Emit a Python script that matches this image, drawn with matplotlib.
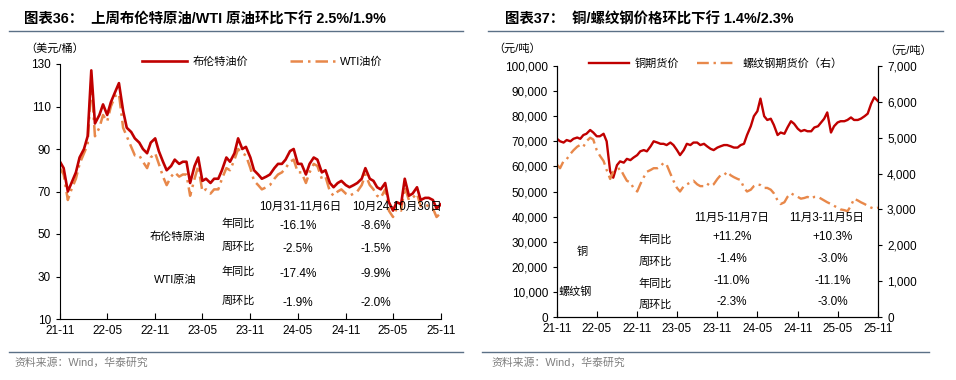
import numpy as np
import pandas as pd
import matplotlib
matplotlib.use('Agg')
from matplotlib import pyplot as plt
from matplotlib.ticker import FuncFormatter

plt.rcParams['font.family'] = ['Liberation Sans', 'Noto Sans CJK SC', 'DejaVu Sans']

# semi-monthly samples (1st / 15th), 2021-11 .. 2025-11
dates = pd.date_range('2021-11-01', '2025-11-01', freq='SMS')

brent = [84, 81, 70, 74, 79, 86, 90, 96, 127, 102, 106, 111, 106, 112, 117, 121,
         108, 100, 98, 95, 93, 90, 88, 93, 95, 89, 84, 80, 82, 85, 83, 84,
         84, 74, 82, 86, 75, 76, 74, 76, 76, 80, 86, 84, 88, 95, 90, 91,
         86, 80, 78, 76, 77, 78, 81, 83, 83, 85, 89, 90, 83, 83, 78, 83,
         86, 85, 79, 80, 74, 72, 74, 75, 73, 72, 73, 74, 76, 81, 76, 75,
         72, 71, 74, 65, 61, 65, 64, 76, 68, 69, 72, 66, 67, 67, 66, 62, 64]

wti = [81, 78, 66, 71, 76, 83, 88, 92, 122, 96, 100, 106, 103, 110, 115, 116,
       100, 96, 91, 87, 87, 84, 81, 86, 88, 83, 77, 73, 77, 79, 77, 78,
       78, 68, 76, 82, 70, 71, 69, 71, 71, 76, 81, 80, 85, 90, 88, 87,
       81, 75, 73, 71, 72, 73, 76, 78, 79, 81, 84, 85, 79, 79, 74, 79,
       83, 82, 76, 77, 70, 68, 70, 71, 69, 68, 69, 70, 73, 78, 73, 71,
       68, 67, 71, 61, 58, 62, 61, 72, 66, 67, 69, 63, 64, 63, 62, 58, 60]

copper = [71.0, 70.0, 69.5, 70.5, 70.0, 71.0, 71.5, 71.0, 72.5, 73.0, 74.5, 73.5,
          72.0, 72.0, 73.0, 70.0, 58.0, 55.5, 60.5, 62.0, 61.5, 63.0, 62.5, 63.5,
          64.5, 66.0, 66.5, 66.0, 68.0, 70.0, 69.5, 69.0, 69.0, 68.5, 69.5, 68.5,
          66.5, 64.5, 66.5, 69.0, 68.5, 69.5, 69.5, 68.5, 69.0, 68.0, 67.0, 66.5,
          67.5, 68.0, 68.5, 68.5, 68.0, 67.5, 67.5, 68.5, 69.0, 72.5, 76.0, 80.0,
          82.0, 87.0, 80.0, 78.5, 79.0, 76.5, 72.5, 73.5, 73.0, 75.5, 78.0, 77.0,
          75.0, 74.0, 74.5, 74.0, 74.0, 75.5, 76.0, 77.5, 79.0, 81.5, 73.5, 76.0,
          77.5, 78.0, 78.0, 78.5, 79.5, 78.5, 78.5, 79.0, 80.0, 81.0, 85.0, 87.5, 86.0]
copper = [v * 1000 for v in copper]

rebar = [4250, 4150, 4350, 4400, 4550, 4650, 4750, 4800, 4750, 4900, 5000, 4950,
         4650, 4500, 4350, 4100, 3850, 4050, 4100, 4150, 3950, 3800, 3750, 3600,
         3500, 3700, 3900, 4050, 4100, 4150, 4150, 4200, 4300, 4250, 4000, 3800,
         3600, 3500, 3650, 3700, 3750, 3800, 3700, 3650, 3650, 3720, 3650, 3700,
         3850, 3950, 3950, 4050, 3950, 3900, 3850, 3820, 3600, 3500, 3550, 3650,
         3700, 3680, 3600, 3600, 3550, 3450, 3250, 3150, 3200, 3350, 3450, 3400,
         3350, 3300, 3320, 3350, 3300, 3350, 3350, 3300, 3250, 3200, 3150, 3100,
         3050, 3000, 2980, 2950, 3100, 3300, 3250, 3200, 3150, 3100, 3050, 3020, 3050]

tick_dates = pd.date_range('2021-11-01', '2025-11-01', freq='6MS')
tick_labels = [d.strftime('%y-%m') for d in tick_dates]

oil_rows = [['布伦特原油', '年同比', '-16.1%', '-8.6%'],
            ['', '周环比', '-2.5%', '-1.5%'],
            ['WTI原油', '年同比', '-17.4%', '-9.9%'],
            ['', '周环比', '-1.9%', '-2.0%']]
oil_cols = ['10月31-11月6日', '10月24-10月30日']
metal_rows = [['铜', '年同比', '+11.2%', '+10.3%'],
              ['', '周环比', '-1.4%', '-3.0%'],
              ['螺纹钢', '年同比', '-11.0%', '-11.1%'],
              ['', '周环比', '-2.3%', '-3.0%']]
metal_cols = ['11月5-11月7日', '11月3-11月5日']

RED = '#C00000'
ORANGE = '#E8884A'
RULE = '#5B7086'
W, H = 956, 380

fig = plt.figure(figsize=(9.56, 3.8), dpi=100)


def px(x, y):
    return x / W, 1 - y / H


def ftext(x, y, s, **kw):
    fig.text(*px(x, y), s, **kw)


def rule(x0, x1, y):
    fig.add_artist(plt.Line2D([x0 / W, x1 / W], [1 - y / H, 1 - y / H], color=RULE, lw=1.0))


# titles, rules, footers
ftext(24, 20, '图表36：  上周布伦特原油/WTI 原油环比下行 2.5%/1.9%', fontsize=10.4, weight='bold', va='center')
ftext(505, 20, '图表37：  铜/螺纹钢价格环比下行 1.4%/2.3%', fontsize=10.4, weight='bold', va='center')
rule(9, 463, 31)
rule(488, 943, 31)
rule(9, 463, 352)
rule(482, 929, 352)
ftext(14, 363, '资料来源：Wind，华泰研究', fontsize=7.8, color='#7F7F7F', va='center')
ftext(491, 363, '资料来源：Wind，华泰研究', fontsize=7.8, color='#7F7F7F', va='center')

dash = (0, (5, 2, 1, 2))

# left panel: oil
l0, l1, t0, b0 = px(60, 64)[0], px(441, 64)[0], px(0, 64)[1], px(0, 319)[1]
ax1 = fig.add_axes([l0, b0, l1 - l0, t0 - b0])
ax1.plot(dates, wti, color=ORANGE, lw=1.8, ls=dash, label='WTI油价')
ax1.plot(dates, brent, color=RED, lw=1.9, label='布伦特油价')
ax1.set_xlim(tick_dates[0], tick_dates[-1])
ax1.set_ylim(10, 130)
ax1.set_yticks(range(10, 131, 20))
ax1.set_xticks(tick_dates)
ax1.set_xticklabels(tick_labels)
for s in ['top', 'right']:
    ax1.spines[s].set_visible(False)
ax1.tick_params(axis='x', direction='in', length=4, labelsize=8.5, pad=4)
ax1.tick_params(axis='y', direction='out', length=3, labelsize=8.5)
ftext(25, 48, '（美元/桶）', fontsize=8, va='center')
h = ax1.get_legend_handles_labels()
ax1.legend([h[0][1], h[0][0]], [h[1][1], h[1][0]], loc='upper left', bbox_to_anchor=(0.19, 1.07),
           ncol=2, frameon=False, fontsize=8, handlelength=4.0, handletextpad=0.5, columnspacing=3.8)

ftext(300, 207, oil_cols[0], fontsize=8.3, ha='center', va='center')
ftext(397, 207, oil_cols[1], fontsize=8.3, ha='center', va='center')
oil_y = [226, 249, 274, 303]
for r, y in zip(oil_rows, oil_y):
    ftext(238, y - 2, r[1], fontsize=8, ha='center', va='center')
    ftext(298, y, r[2], fontsize=8.5, ha='center', va='center')
    ftext(376, y, r[3], fontsize=8.5, ha='center', va='center')
ftext(177, 237, oil_rows[0][0], fontsize=8, ha='center', va='center')
ftext(175, 280, oil_rows[2][0], fontsize=8, ha='center', va='center')

# right panel: copper / rebar
l0, l1, t0, b0 = px(557, 66)[0], px(878, 66)[0], px(0, 66)[1], px(0, 317)[1]
ax2 = fig.add_axes([l0, b0, l1 - l0, t0 - b0])
ax3 = ax2.twinx()
ax2.plot(dates, copper, color=RED, lw=1.7, label='铜期货价')
ax3.plot(dates, rebar, color=ORANGE, lw=1.7, ls=dash, label='螺纹钢期货价（右）')
ax2.set_xlim(tick_dates[0], tick_dates[-1])
ax2.set_ylim(0, 100000)
ax3.set_ylim(0, 7000)
ax2.set_yticks(range(0, 100001, 10000))
ax3.set_yticks(range(0, 7001, 1000))
ax2.yaxis.set_major_formatter(FuncFormatter(lambda v, p: f'{int(v):,}'))
ax3.yaxis.set_major_formatter(FuncFormatter(lambda v, p: f'{int(v):,}'))
ax2.set_xticks(tick_dates)
ax2.set_xticklabels(tick_labels)
ax2.spines['top'].set_visible(False)
ax3.spines['top'].set_visible(False)
ax2.tick_params(axis='x', direction='in', length=4, labelsize=8.5, pad=4)
ax2.tick_params(axis='y', direction='out', length=3, labelsize=8.5)
ax3.tick_params(axis='y', direction='out', length=3, labelsize=8.5)
ftext(493, 48, '（元/吨）', fontsize=8, va='center')
ftext(884, 50, '（元/吨）', fontsize=8, va='center')
lines = ax2.get_lines() + ax3.get_lines()
ax2.legend(lines, [l.get_label() for l in lines], loc='upper left', bbox_to_anchor=(0.07, 1.07),
           ncol=2, frameon=False, fontsize=8, handlelength=3.6, handletextpad=0.5, columnspacing=1.6)

ftext(732, 218, metal_cols[0], fontsize=8.3, ha='center', va='center')
ftext(827, 218, metal_cols[1], fontsize=8.3, ha='center', va='center')
metal_y = [237, 259, 281, 302]
for r, y in zip(metal_rows, metal_y):
    ftext(655, y + 3, r[1], fontsize=8, ha='center', va='center')
    ftext(732, y, r[2], fontsize=8.5, ha='center', va='center')
    ftext(833, y, r[3], fontsize=8.5, ha='center', va='center')
ftext(582, 252, metal_rows[0][0], fontsize=8, ha='center', va='center')
ftext(575, 292, metal_rows[2][0], fontsize=8, ha='center', va='center')

fig.savefig('out.png', dpi=100)
